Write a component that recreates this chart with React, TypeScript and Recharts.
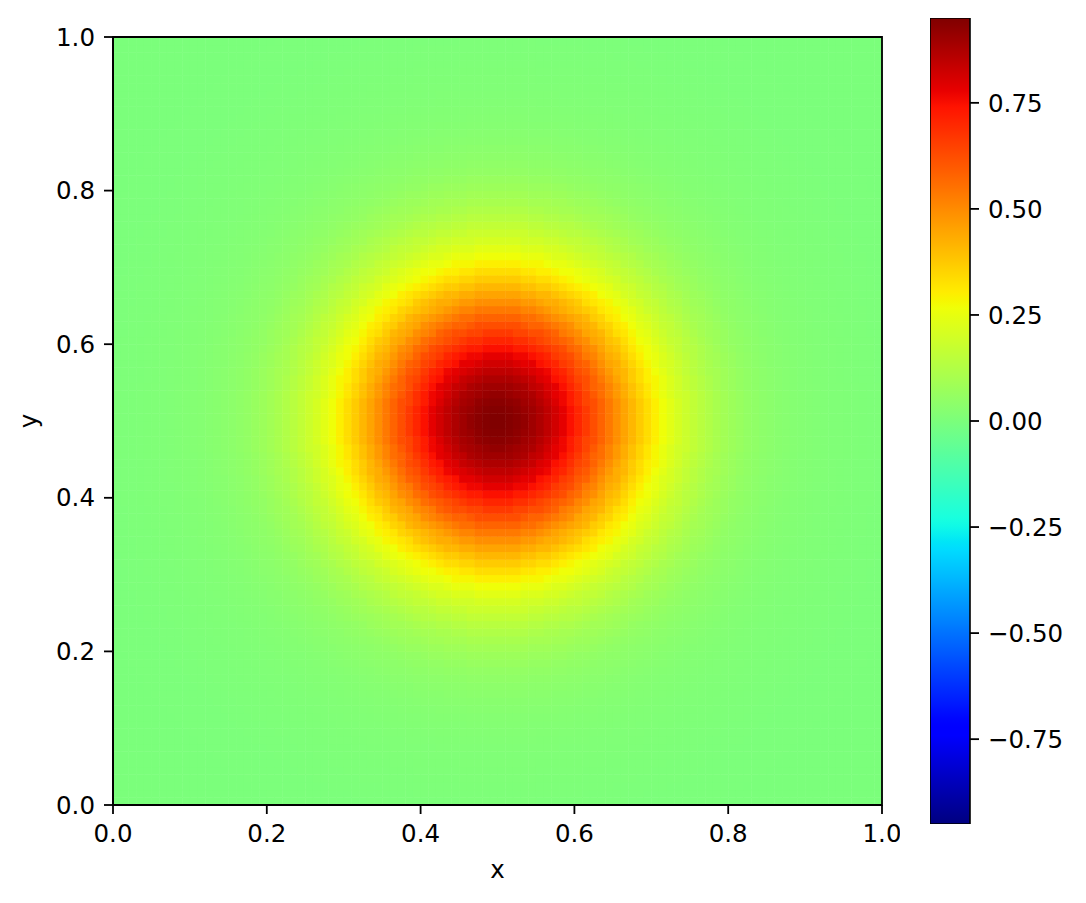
import {
  ScatterChart,
  Scatter,
  BarChart,
  Bar,
  XAxis,
  YAxis,
  ReferenceArea,
  Label,
} from 'recharts'

// values
const xTicks = [0, 0.2, 0.4, 0.6, 0.8, 1.0]
const yTicks = [0, 0.2, 0.4, 0.6, 0.8, 1.0]
const colorbarTicks = [-0.75, -0.5, -0.25, 0, 0.25, 0.5, 0.75]
const VMIN = -0.95
const VMAX = 0.95
const GRID_N = 100

// field value at distance r from the centre (0.5, 0.5), one entry every 0.005
const RADIAL_STEP = 0.005
const radialProfile = [
  0.95, 0.949, 0.947, 0.943, 0.937, 0.933, 0.927, 0.918, 0.908, 0.897,
  0.886, 0.873, 0.86, 0.846, 0.832, 0.816, 0.8, 0.783, 0.766, 0.746,
  0.725, 0.705, 0.684, 0.664, 0.643, 0.622, 0.6, 0.579, 0.557, 0.536,
  0.514, 0.492, 0.471, 0.45, 0.43, 0.41, 0.39, 0.371, 0.352, 0.334,
  0.316, 0.299, 0.283, 0.267, 0.251, 0.236, 0.222, 0.208, 0.195, 0.183,
  0.171, 0.16, 0.15, 0.14, 0.13, 0.121, 0.112, 0.104, 0.096, 0.089,
  0.082, 0.076, 0.07, 0.065, 0.06, 0.055, 0.051, 0.047, 0.044, 0.041,
  0.038, 0.035, 0.033, 0.03, 0.028, 0.026, 0.024, 0.022, 0.021, 0.019,
  0.018, 0.017, 0.016, 0.015, 0.014, 0.013, 0.012, 0.011, 0.01, 0.01,
  0.009, 0.009, 0.008, 0.008, 0.007, 0.007, 0.006, 0.006, 0.005, 0.005,
  0.004, 0.004, 0.003, 0.003, 0.003, 0.002, 0.002, 0.002, 0.002, 0.001,
  0.001, 0.001, 0.001, 0.001, 0.001, 0, 0, 0, 0, 0,
  0, 0, 0, 0, 0, 0, 0, 0, 0, 0,
  0, 0, 0, 0, 0, 0, 0, 0, 0, 0,
  0, 0, 0,
]

// matplotlib "jet" colormap segments
const jetRed = [[0, 0], [0.35, 0], [0.66, 1], [0.89, 1], [1, 0.5]]
const jetGreen = [[0, 0], [0.125, 0], [0.375, 1], [0.64, 1], [0.91, 0], [1, 0]]
const jetBlue = [[0, 0.5], [0.11, 1], [0.34, 1], [0.65, 0], [1, 0]]

const seg = (pts: number[][], t: number) => {
  for (let k = 1; k < pts.length; k++) {
    if (t <= pts[k][0]) {
      const [x0, y0] = pts[k - 1]
      const [x1, y1] = pts[k]
      return y0 + ((t - x0) / (x1 - x0)) * (y1 - y0)
    }
  }
  return pts[pts.length - 1][1]
}

const jet = (t: number) => {
  const c = Math.max(0, Math.min(1, t))
  const h = (v: number) => Math.round(v * 255).toString(16).padStart(2, '0')
  return '#' + h(seg(jetRed, c)) + h(seg(jetGreen, c)) + h(seg(jetBlue, c))
}

const cells: { x: number; y: number; color: string }[] = []
for (let i = 0; i < GRID_N; i++) {
  for (let j = 0; j < GRID_N; j++) {
    const x = (i + 0.5) / GRID_N
    const y = (j + 0.5) / GRID_N
    const r = Math.hypot(x - 0.5, y - 0.5)
    const idx = Math.min(Math.round(r / RADIAL_STEP), radialProfile.length - 1)
    const v = radialProfile[idx]
    cells.push({ x, y, color: jet((v - VMIN) / (VMAX - VMIN)) })
  }
}

const colorbarData = [{ name: 'cb', range: [VMIN, VMAX] }]
const gradStops = Array.from({ length: 101 }, (_, k) => k / 100)

const FONT = 'DejaVu Sans, sans-serif'
const FS = 24.5
const tickStyle = { fontSize: FS, fill: '#000', fontFamily: FONT }
const blackLine = { stroke: '#000', strokeWidth: 1.8 }

const CHART_W = 900
const CHART_H = 903
const MARGIN = { top: 37, right: 18, bottom: 48, left: 0 }
const Y_AXIS_W = 113
const X_AXIS_H = 50
const CELL_W = (CHART_W - MARGIN.left - MARGIN.right - Y_AXIS_W) / GRID_N
const CELL_H = (CHART_H - MARGIN.top - MARGIN.bottom - X_AXIS_H) / GRID_N

const fmt1 = (v: number) => v.toFixed(1)
const fmtCb = (v: number) => (v < 0 ? '\u2212' + Math.abs(v).toFixed(2) : v.toFixed(2))

const App = () => {
  return (
    <div style={{ position: 'absolute', left: 0, top: 0, width: 1086, height: 903, background: '#fff' }}>
      <div style={{ position: 'absolute', left: 0, top: 0 }}>
        <ScatterChart width={CHART_W} height={CHART_H} margin={MARGIN}>
          <XAxis
            type="number"
            dataKey="x"
            domain={[0, 1]}
            ticks={xTicks}
            tickFormatter={fmt1}
            height={X_AXIS_H}
            tick={tickStyle}
            tickSize={9}
            tickMargin={11}
            tickLine={blackLine}
            axisLine={blackLine}
          >
            <Label
              content={({ viewBox }: any) => (
                <text
                  x={viewBox.x + viewBox.width / 2}
                  y={viewBox.y + 73}
                  textAnchor="middle"
                  fontSize={FS}
                  fontFamily={FONT}
                  fill="#000"
                >
                  x
                </text>
              )}
            />
          </XAxis>
          <YAxis
            type="number"
            dataKey="y"
            domain={[0, 1]}
            ticks={yTicks}
            tickFormatter={fmt1}
            width={Y_AXIS_W}
            tick={tickStyle}
            tickSize={9}
            tickMargin={9}
            tickLine={blackLine}
            axisLine={blackLine}
          >
            <Label
              content={({ viewBox }: any) => {
                const lx = viewBox.x + 36.5
                const ly = viewBox.y + viewBox.height / 2
                return (
                  <text
                    x={lx}
                    y={ly}
                    transform={`rotate(-90 ${lx} ${ly})`}
                    textAnchor="middle"
                    fontSize={FS}
                    fontFamily={FONT}
                    fill="#000"
                  >
                    y
                  </text>
                )
              }}
            />
          </YAxis>
          <Scatter
            data={cells}
            isAnimationActive={false}
            zIndex={50}
            shape={(p: any) => (
              <rect
                x={p.cx - CELL_W / 2}
                y={p.cy - CELL_H / 2}
                width={CELL_W + 0.5}
                height={CELL_H + 0.5}
                fill={p.payload.color}
              />
            )}
          />
          {/* frame around the image */}
          <ReferenceArea
            x1={0}
            x2={1}
            y1={0}
            y2={1}
            fill="none"
            fillOpacity={0}
            stroke="#000"
            strokeWidth={1.8}
            zIndex={1000}
          />
        </ScatterChart>
      </div>

      {/* colorbar */}
      <div style={{ position: 'absolute', left: 930, top: 0 }}>
        <BarChart
          width={156}
          height={903}
          data={colorbarData}
          margin={{ top: 18, right: 0, bottom: 79, left: 0 }}
          barCategoryGap={0}
        >
          <defs>
            <linearGradient id="jetGrad" x1="0" y1="0" x2="0" y2="1">
              {gradStops.map((o) => (
                <stop key={o} offset={o} stopColor={jet(1 - o)} />
              ))}
            </linearGradient>
          </defs>
          <XAxis dataKey="name" hide />
          <YAxis
            orientation="right"
            type="number"
            domain={[VMIN, VMAX]}
            allowDataOverflow
            ticks={colorbarTicks}
            tickFormatter={fmtCb}
            width={116}
            tick={tickStyle}
            tickSize={9}
            tickMargin={9}
            tickLine={blackLine}
            axisLine={false}
          />
          <Bar dataKey="range" fill="url(#jetGrad)" stroke="#000" strokeWidth={1.6} isAnimationActive={false} />
        </BarChart>
      </div>
    </div>
  )
}

export default App
